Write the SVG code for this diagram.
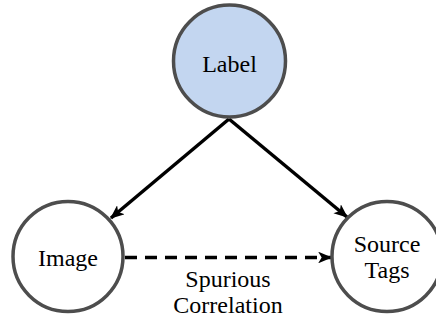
<svg xmlns="http://www.w3.org/2000/svg" width="436" height="320" viewBox="0 0 436 320">
<style>
.node{fill:#fff;stroke:#4d4d4d;stroke-width:3.5}
.t{font-family:'Liberation Serif','Times New Roman',Times,serif;font-size:24px;fill:#000;text-anchor:middle}
.e{stroke:#000;stroke-width:3.5;fill:none}
</style>
<defs>
<marker id="ah" viewBox="0 0 12 10" refX="11" refY="5" markerWidth="4" markerHeight="3.4" orient="auto" markerUnits="strokeWidth">
<path d="M0,0 L12,5 L0,10 L3,5 z" fill="#000"/>
</marker>
</defs>
<g id="edges">
<line class="e" x1="229" y1="119" x2="111" y2="218" marker-end="url(#ah)"/>
<line class="e" x1="229" y1="119" x2="347" y2="217" marker-end="url(#ah)"/>
<line class="e" x1="125" y1="257.5" x2="331" y2="257.5" stroke-dasharray="12 8" marker-end="url(#ah)"/>
<text class="t" x="228" y="287">Spurious</text>
<text class="t" x="228" y="313">Correlation</text>
</g>
<g id="label">
<circle class="node" cx="229.5" cy="61" r="56" style="fill:#c3d6f0"/>
<text class="t" x="229.5" y="72">Label</text>
</g>
<g id="image">
<circle class="node" cx="68" cy="256.5" r="55"/>
<text class="t" x="68" y="266">Image</text>
</g>
<g id="source">
<circle class="node" cx="387" cy="256.5" r="55"/>
<text class="t" x="387" y="252">Source</text>
<text class="t" x="387" y="278">Tags</text>
</g>
</svg>
